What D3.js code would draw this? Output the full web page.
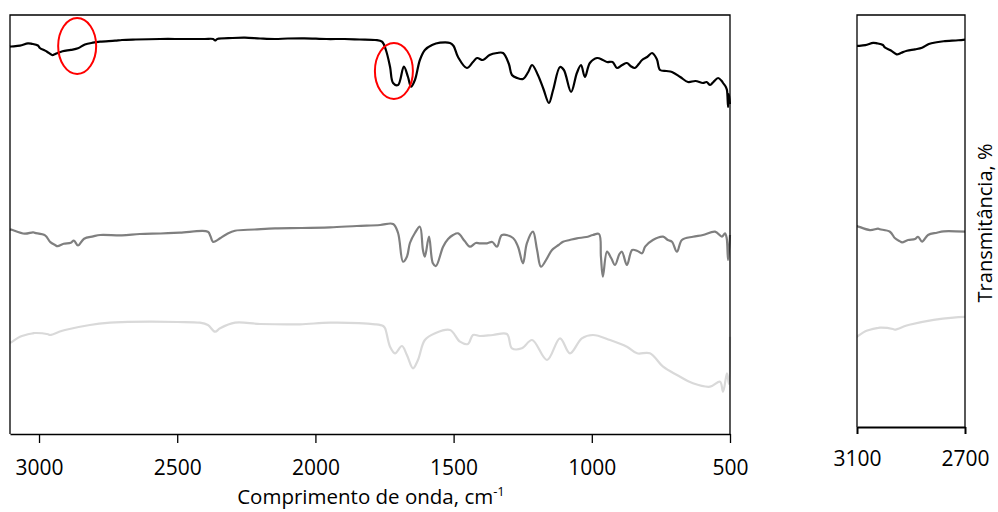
<!DOCTYPE html>
<html>
<head>
<meta charset="utf-8">
<style>
  body { margin: 0; background: #fff; }
  svg text { font-family: "Open Sans", sans-serif; fill: #000; }
</style>
</head>
<body>
<div id="area"></div>

<!-- Load d3.js -->
<script src="https://d3js.org/d3.v7.min.js"></script>
<script>
// spectra: [wavenumber cm-1, transmittance (offset, a.u.)]
blackSpectrum = [[3105,387.3],[3100,387.5],[3069,388.3],[3040,390.7],[3026,390.2],[3004,388.5],[2997,386],[2978,383.4],[2971,382.3],[2953,379],[2948,379.1],[2935,380.7],[2915,382.7],[2885,384.1],[2859,385.7],[2834,389.5],[2805,391.3],[2779,392.3],[2725,393.3],[2700,394],[2650,394.5],[2562,395],[2480,395],[2400,395],[2370,395],[2363,393.5],[2355,395],[2300,396],[2255,396.3],[2200,395.5],[2146,395],[2100,395.5],[2040,395.7],[1960,395],[1895,395],[1840,394.5],[1784,394],[1759,392.3],[1745,384],[1730,367.3],[1719,351],[1701,349],[1680,367.3],[1665,357],[1654,347.3],[1640,354],[1622,374],[1604,384],[1578,389],[1549,391.3],[1513,391],[1500,388],[1484,377],[1452,366],[1430,372],[1415,376],[1394,374],[1370,379],[1343,381],[1321,381],[1300,370],[1289,359],[1270,356],[1249,355],[1230,362],[1216,369],[1195,359],[1175,345],[1155,331],[1140,344],[1115,367],[1101,364],[1075,342],[1054,361],[1039,369],[1025,357],[1007,371],[981,376],[960,374],[945,372],[925,372],[909,366],[890,369],[873,371],[860,368],[844,366],[830,370],[818,374],[800,377],[782,381],[765,375],[753,364],[730,363],[710,362],[680,357],[652,352],[625,353],[598,351],[585,352],[572,349],[560,352],[543,356],[530,353],[525,351],[515,347],[511,344],[507,327],[504,340],[500,330]];

graySpectrum = [[3105,204.7],[3100,204.4],[3052,200.3],[3022,201.7],[3015,201.1],[2978,198.6],[2959,191.9],[2942,189],[2933,187.8],[2911,190.2],[2885,191.2],[2874,193.5],[2859,188.5],[2837,195.3],[2804,197.6],[2779,199],[2700,198.6],[2635,200],[2560,200.5],[2490,201.3],[2389,202.3],[2380,198],[2371,192.3],[2360,193],[2345,195.7],[2320,200],[2291,203.3],[2220,204.5],[2146,205.7],[2050,206],[1947,206.7],[1850,208],[1766,209],[1719,210],[1701,201],[1683,172.3],[1669,177.3],[1658,191],[1640,201],[1622,207.3],[1611,184],[1604,177.3],[1589,197.3],[1575,170.7],[1564,168],[1538,187.3],[1520,195],[1502,199],[1484,200.7],[1460,193],[1441,187.3],[1420,191],[1405,190.7],[1379,190.7],[1360,192],[1343,187.3],[1325,199],[1285,196],[1267,187.3],[1249,170.7],[1235,190.7],[1213,202.3],[1198,184],[1184,167.3],[1162,175.7],[1144,184],[1120,189],[1104,192.3],[1080,194],[1054,195.7],[1020,197],[996,199],[974,200],[967,177.3],[960,157.3],[945,182.3],[930,176],[916,169],[900,180],[891,182.3],[873,169],[854,184],[835,183],[818,180.7],[807,187.3],[779,194],[742,197.3],[725,194],[710,192.3],[692,182.3],[674,194],[634,197.3],[598,199],[554,202.3],[529,197.3],[518,200.7],[512,196],[507,174],[500,199]];

lightSpectrum = [[3105,91.3],[3100,91.8],[3069,97.3],[3022,100.7],[3015,101],[2967,99.7],[2960,99],[2922,102.7],[2906,104],[2816,109],[2743,111.3],[2700,111.9],[2598,112.3],[2500,112],[2418,111.3],[2389,109],[2363,102.3],[2345,105.7],[2291,111.3],[2200,110],[2056,109.7],[1947,111.3],[1784,109.7],[1755,108],[1748,105.7],[1730,87.3],[1712,80.7],[1687,88],[1669,79],[1647,65.7],[1629,74],[1604,94],[1567,100.7],[1513,104],[1477,92.3],[1448,90],[1430,99],[1405,98],[1358,99],[1307,100],[1289,85.7],[1253,85.7],[1216,94],[1162,74],[1115,95.7],[1079,80.7],[1036,95.7],[996,99],[934,94],[873,87.3],[836,80.7],[790,80.7],[742,67.3],[692,59],[634,50.7],[572,47.3],[536,52.3],[525,42.3],[511,60.7],[504,50],[500,97.3]];

seriesColors = ["#000000", "#7f7f7f", "#d9d9d9"];
mainTicks = [3000, 2500, 2000, 1500, 1000, 500];
insetTicks = [3100, 2700];
// red circled bands: [wavenumber, transmittance]
highlights = [[2862, 388], [1716, 363]];

width = 998;
height = 512;

svg = d3.select("#area")
  .append("svg")
    .attr("width", width)
    .attr("height", height)
    .style("display", "block");

// main panel
x = d3.scaleLinear().domain([3105, 500]).range([10, 730]);
y = d3.scaleLinear().domain([0, 419]).range([434, 15]);

// inset 3100-2700
xi = d3.scaleLinear().domain([3100, 2700]).range([857, 965]);
yi = d3.scaleLinear().domain([0, 419]).range([427, 15]);

spectra = [blackSpectrum, graySpectrum, lightSpectrum];

line = (sx, sy) => d3.line()
    .curve(d3.curveCatmullRom.alpha(0.5))
    .x(d => sx(d[0]))
    .y(d => sy(d[1]));

svg.append("defs").append("clipPath")
    .attr("id", "insetClip")
  .append("rect")
    .attr("x", xi(3100)).attr("y", 0)
    .attr("width", xi(2700) - xi(3100)).attr("height", height);

// draw lines, light first so black sits on top
svg.append("g")
  .selectAll("path")
  .data(spectra.map((s, i) => ({s, i})).reverse())
  .join("path")
    .attr("fill", "none")
    .attr("stroke", d => seriesColors[d.i])
    .attr("stroke-width", 2.2)
    .attr("stroke-linejoin", "round")
    .attr("d", d => line(x, y)(d.s));

svg.append("g")
    .attr("clip-path", "url(#insetClip)")
  .selectAll("path")
  .data(spectra.map((s, i) => ({s: s.filter(p => p[0] >= 2690), i})).reverse())
  .join("path")
    .attr("fill", "none")
    .attr("stroke", d => seriesColors[d.i])
    .attr("stroke-width", 2.2)
    .attr("stroke-linejoin", "round")
    .attr("d", d => line(xi, yi)(d.s));

// red ellipses
svg.append("g")
  .selectAll("ellipse")
  .data(highlights)
  .join("ellipse")
    .attr("cx", d => x(d[0]))
    .attr("cy", d => y(d[1]))
    .attr("rx", 19)
    .attr("ry", 28)
    .attr("fill", "none")
    .attr("stroke", "#ff0000")
    .attr("stroke-width", 2);

// frames
frame = svg.append("g").attr("stroke", "#000").attr("stroke-width", 1.3).attr("fill", "none");
frame.append("path").attr("d", `M${x(3105)},${y(0)}V${y(419)}H${x(500)}V${y(0)}`);
frame.append("path").attr("d", `M${xi(3100)},${yi(0)}V${yi(419)}H${xi(2700)}V${yi(0)}`);

mainAxis = svg.append("g")
    .attr("transform", `translate(0,${y(0)})`)
    .call(d3.axisBottom(x).tickValues(mainTicks).tickFormat(d3.format("d"))
      .tickSize(9).tickSizeOuter(0).tickPadding(17));

insetAxis = svg.append("g")
    .attr("transform", `translate(0,${yi(0)})`)
    .call(d3.axisBottom(xi).tickValues(insetTicks).tickFormat(d3.format("d"))
      .tickSize(7).tickSizeOuter(0).tickPadding(17));

[mainAxis, insetAxis].forEach(g => {
  g.selectAll("text").attr("font-size", 21).attr("font-family", "Open Sans");
  g.selectAll("line").attr("stroke", "#000").attr("stroke-width", 1.3);
});
mainAxis.select(".domain").attr("stroke", "#000").attr("stroke-width", 1.3);
insetAxis.select(".domain").attr("stroke", "#000").attr("stroke-width", 2.2);
insetAxis.selectAll("line").attr("stroke-width", 2);

// axis titles
xt = svg.append("text")
    .attr("x", 371)
    .attr("y", 504)
    .attr("text-anchor", "middle")
    .attr("font-size", 20.5)
    .text("Comprimento de onda, cm");
xt.append("tspan")
    .attr("dy", -8)
    .attr("font-size", 13)
    .text("-1");

svg.append("text")
    .attr("transform", "translate(992,223) rotate(-90)")
    .attr("text-anchor", "middle")
    .attr("font-size", 20)
    .text("Transmitância, %");
</script>
</body>
</html>
